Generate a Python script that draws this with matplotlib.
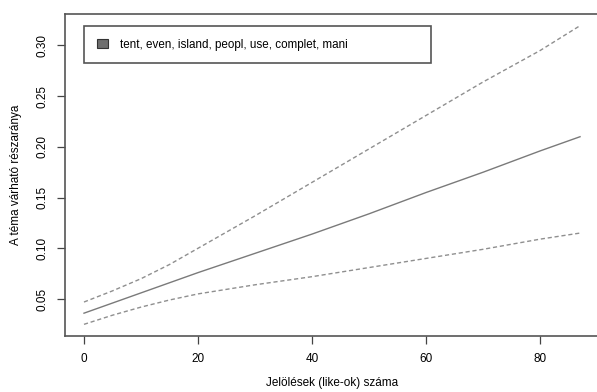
import matplotlib
matplotlib.use("Agg")
import matplotlib.pyplot as plt
from matplotlib.patches import Patch

# Data
likes = [0, 5, 10, 15, 20, 30, 40, 50, 60, 70, 80, 87]
expected = [0.036, 0.046, 0.056, 0.066, 0.076, 0.095, 0.114, 0.134, 0.155, 0.175, 0.196, 0.210]
upper = [0.047, 0.058, 0.070, 0.084, 0.100, 0.132, 0.165, 0.198, 0.231, 0.264, 0.295, 0.3195]
lower = [0.025, 0.034, 0.042, 0.049, 0.055, 0.064, 0.072, 0.081, 0.090, 0.099, 0.109, 0.115]
legend_label = "tent, even, island, peopl, use, complet, mani"
xticks = [0, 20, 40, 60, 80]
yticks = [0.05, 0.10, 0.15, 0.20, 0.25, 0.30]

plt.rcParams['font.family'] = ['Liberation Sans', 'DejaVu Sans']

fig = plt.figure(figsize=(5.97, 3.92), dpi=100)
ax = fig.add_axes([65/597, 1-336/392, 535/597, 322/392])

ax.plot(likes, expected, color='#7a7a7a', lw=1.0, ls='-')
ax.plot(likes, upper, color='#8f8f8f', lw=1.0, ls=(0, (3, 2)))
ax.plot(likes, lower, color='#8f8f8f', lw=1.0, ls=(0, (3, 2)))

ax.set_xlim(-3.33, 90.5)
ax.set_ylim(0.0135, 0.331)
ax.set_xticks(xticks)
ax.set_xticklabels([str(t) for t in xticks], fontsize=8.5)
ax.set_yticks(yticks)
ax.set_yticklabels([f"{t:.2f}" for t in yticks], fontsize=8.5, rotation=90, va='center')
ax.tick_params(axis='both', direction='out', length=6, width=0.9, color='#444444', pad=6)
for s in ax.spines.values():
    s.set_color('#555555')
    s.set_linewidth(1.2)

ax.set_xlabel("Jelölések (like-ok) száma", fontsize=8.5, labelpad=9)
ax.set_ylabel("A téma várható részaránya", fontsize=8.5, labelpad=10)

handle = Patch(facecolor='#6e6e6e', edgecolor='#333333', linewidth=0.8)
leg = ax.legend([handle], [legend_label], loc='upper left',
                bbox_to_anchor=(0.0355, 0.851, 0.6486, 0.1127), mode='expand',
                borderaxespad=0, fontsize=8.4, fancybox=False, framealpha=1,
                edgecolor='#555555', borderpad=1.1, handlelength=1.0,
                handleheight=0.8, handletextpad=1.0)
leg.get_frame().set_linewidth(1.2)

fig.savefig("out.png", dpi=100)
